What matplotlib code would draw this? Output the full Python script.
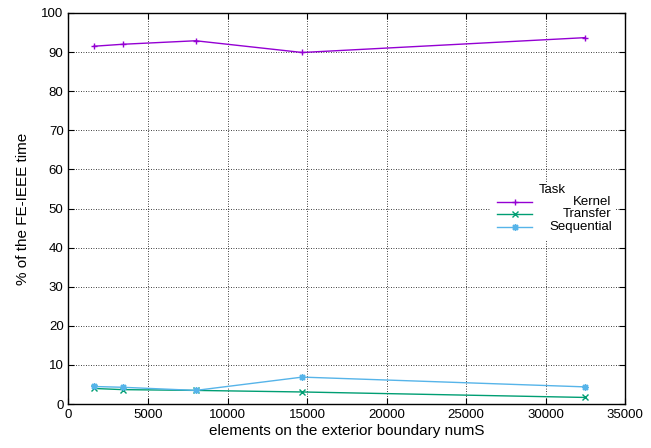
import matplotlib
matplotlib.use("Agg")
import matplotlib.pyplot as plt
from matplotlib.lines import Line2D
from matplotlib.patches import Rectangle

# data
num_s = [1600, 3400, 8000, 14700, 32500]
kernel = [91.5, 92.0, 92.9, 89.9, 93.7]
transfer = [4.0, 3.7, 3.5, 3.1, 1.7]
sequential = [4.5, 4.3, 3.5, 6.9, 4.4]

series_names = ["Kernel", "Transfer", "Sequential"]
series_colors = ["#9400d3", "#009e73", "#56b4e9"]
series_markers = ["+", "x", (8, 2, 0)]

plt.rcParams["font.family"] = ["Liberation Sans", "DejaVu Sans"]

fig = plt.figure(figsize=(6.51, 4.48), dpi=100)
ax = fig.add_axes([0.1052, 0.098, 0.855, 0.873])

for vals, name, col, mk in zip([kernel, transfer, sequential], series_names,
                               series_colors, series_markers):
    ax.plot(num_s, vals, color=col, marker=mk, markersize=5, lw=1,
            markeredgewidth=1, label=name, zorder=3)

ax.set_xlim(0, 35000)
ax.set_ylim(0, 100)
ax.set_xticks(range(0, 35001, 5000))
ax.set_yticks(range(0, 101, 10))
ax.tick_params(direction="in", top=True, right=True, labelsize=9.5, length=4)
ax.grid(True, color="black", linestyle=(0, (1, 2)), lw=0.6)
for s in ax.spines.values():
    s.set_linewidth(1)
ax.set_xlabel("elements on the exterior boundary numS", fontsize=11, labelpad=2)
ax.set_ylabel("% of the FE-IEEE time", fontsize=11, labelpad=8)

# gnuplot-style key: opaque box, samples left, labels right-aligned
tr = ax.transAxes
ax.add_patch(Rectangle((0.757, 0.42), 0.225, 0.145, transform=tr,
                       facecolor="white", edgecolor="none", zorder=2.5))
ax.text(0.869, 0.547, "Task", transform=tr, ha="center", va="center",
        fontsize=9.5, zorder=4)
rows_y = [0.516, 0.485, 0.452]
for y, name, col, mk in zip(rows_y, series_names, series_colors, series_markers):
    ax.add_line(Line2D([0.770, 0.833], [y, y], transform=tr, color=col, lw=1,
                       zorder=4))
    ax.add_line(Line2D([0.8015], [y], transform=tr, color=col, marker=mk,
                       markersize=5, markeredgewidth=1, zorder=4))
    ax.text(0.976, y, name, transform=tr, ha="right", va="center",
            fontsize=9.5, zorder=4)

fig.savefig("out.png", dpi=100)
